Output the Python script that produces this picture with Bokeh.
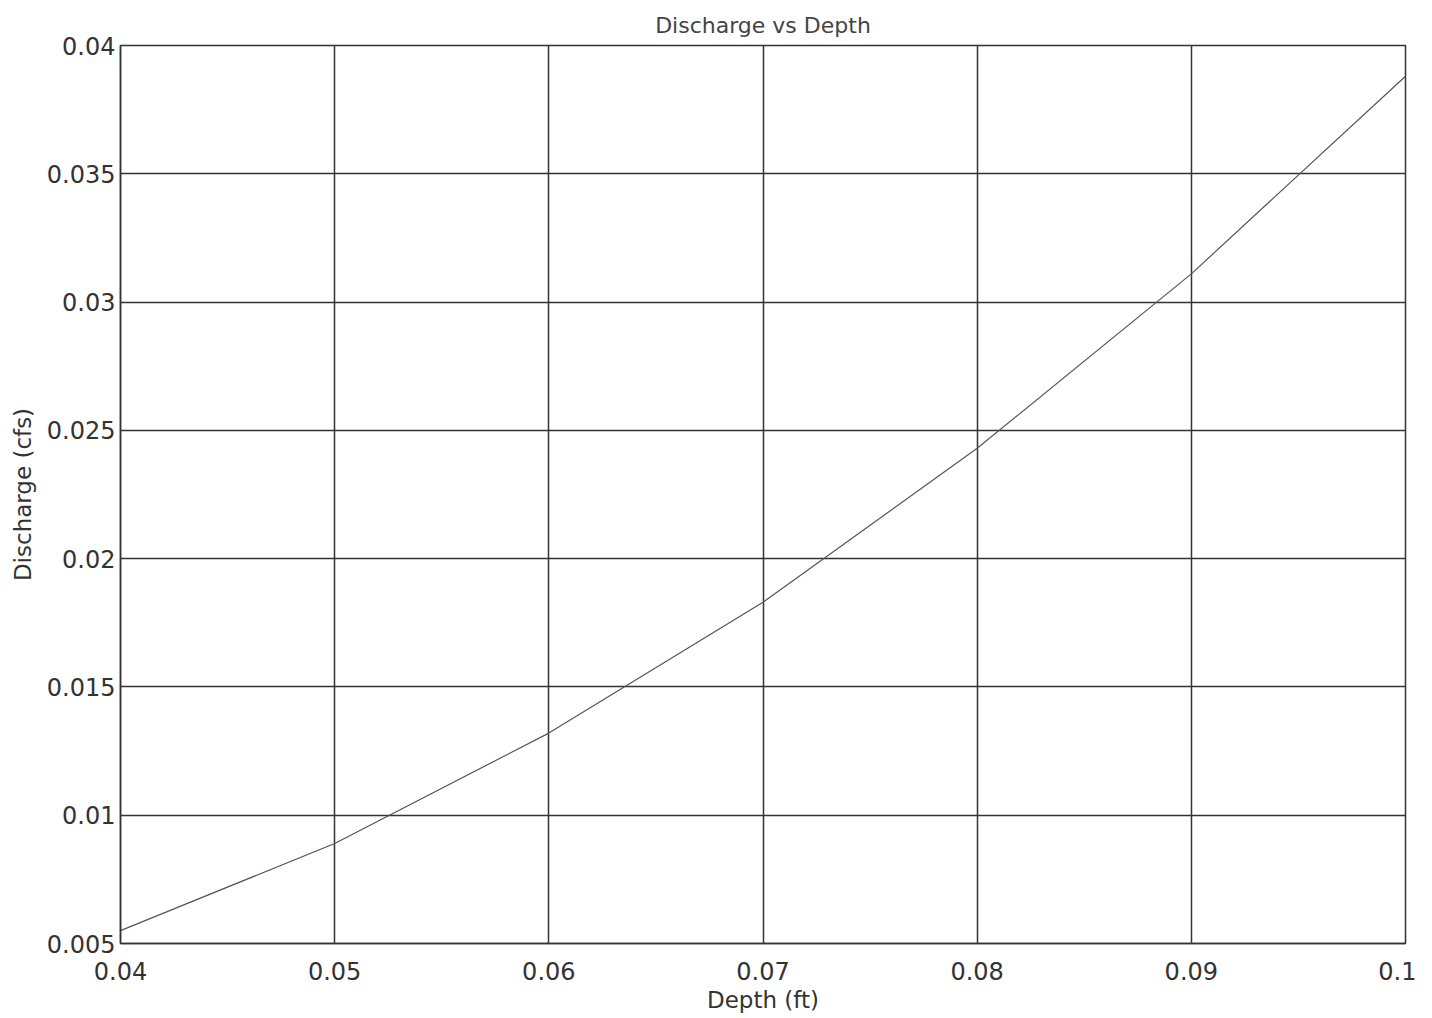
from bokeh.plotting import figure
from bokeh.models import Range1d, FixedTicker, Title
from bokeh.embed import file_html
from bokeh.resources import INLINE

depth = [0.04, 0.05, 0.06, 0.07, 0.08, 0.09, 0.10]
discharge = [0.0055, 0.0089, 0.0132, 0.0183, 0.0243, 0.0311, 0.0388]
x_ticks = [0.04, 0.05, 0.06, 0.07, 0.08, 0.09, 0.1]
x_labels = ["0.04", "0.05", "0.06", "0.07", "0.08", "0.09", "0.1"]
y_ticks = [0.005, 0.01, 0.015, 0.02, 0.025, 0.03, 0.035, 0.04]
y_labels = ["0.005", "0.01", "0.015", "0.02", "0.025", "0.03", "0.035", "0.04"]

FONT = "DejaVu Sans"
p = figure(width=1416, height=1015, output_backend="svg", toolbar_location=None,
           x_range=Range1d(0.04, 0.1), y_range=Range1d(0.005, 0.04),
           min_border_left=120, min_border_right=11, min_border_top=45, min_border_bottom=60)
p.title = None
t = Title(text="Discharge vs Depth", align="center", text_font=FONT, text_font_size="22px",
          text_font_style="normal", text_color="#444444", standoff=15, offset=0)
p.add_layout(t, "above")

p.line(depth, discharge, line_color="#555555", line_width=1.2)

p.xaxis.ticker = FixedTicker(ticks=x_ticks)
p.yaxis.ticker = FixedTicker(ticks=y_ticks)
p.xaxis.major_label_overrides = {t_: l for t_, l in zip(x_ticks, x_labels)}
p.yaxis.major_label_overrides = {t_: l for t_, l in zip(y_ticks, y_labels)}
for ax in (p.xaxis, p.yaxis):
    ax.major_tick_out = 0
    ax.major_tick_in = 0
    ax.minor_tick_out = 0
    ax.minor_tick_in = 0
    ax.axis_line_color = "#333333"
    ax.axis_line_width = 1.5
    ax.major_label_text_font = FONT
    ax.major_label_text_font_size = "24px"
    ax.major_label_text_color = "#333333"
    ax.axis_label_text_font = FONT
    ax.axis_label_text_font_size = "23px"
    ax.axis_label_text_font_style = "normal"
    ax.axis_label_text_color = "#333333"
p.xaxis.axis_label = "Depth (ft)"
p.yaxis.axis_label = "Discharge (cfs)"
p.xaxis.major_label_standoff = 18
p.yaxis.major_label_standoff = 5
p.xaxis.axis_label_standoff = 4
p.yaxis.axis_label_standoff = 8

p.grid.grid_line_color = "#333333"
p.grid.grid_line_width = 1.5
p.grid.grid_line_alpha = 1.0
p.outline_line_color = "#333333"
p.outline_line_width = 1.5
p.outline_line_alpha = 1.0

open("out.html", "w").write(file_html(p, INLINE))
